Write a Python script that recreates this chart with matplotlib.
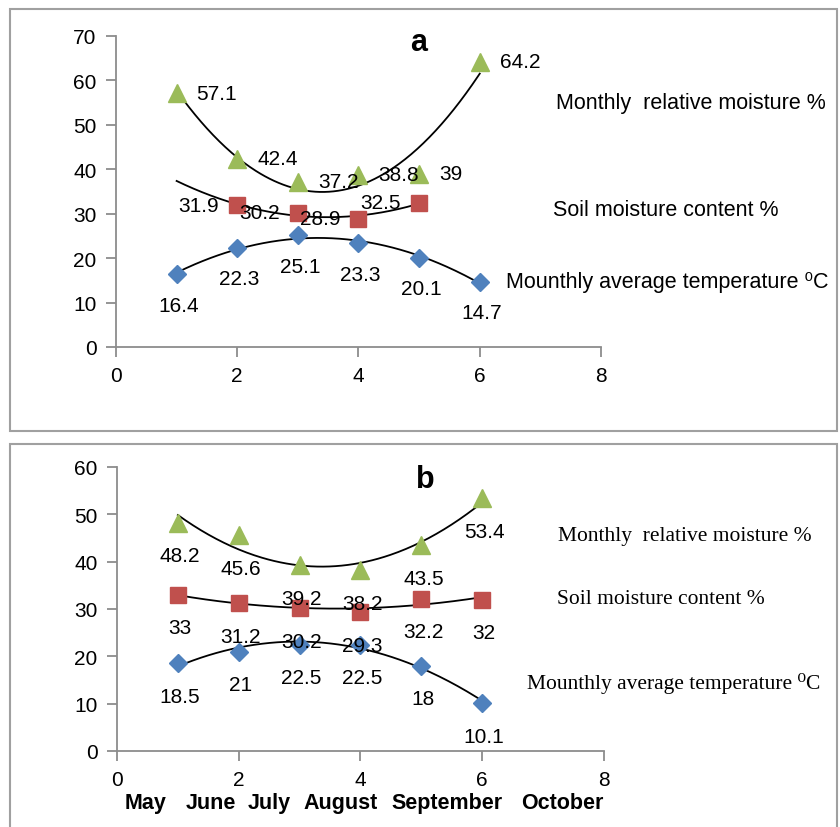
import numpy as np
import matplotlib
matplotlib.use("Agg")
import matplotlib.pyplot as plt
from matplotlib.patches import Rectangle

# ---------------- data ----------------
x_months = [1, 2, 3, 4, 5, 6]
months = ["May", "June", "July", "August", "September", "October"]

# panel a
a_temp = [16.4, 22.3, 25.1, 23.3, 20.1, 14.7]
a_soil_x = [2, 3, 4, 5]
a_soil = [31.9, 30.2, 28.9, 32.5]
a_rh = [57.1, 42.4, 37.2, 38.8, 39, 64.2]

# panel b
b_temp = [18.5, 21, 22.5, 22.5, 18, 10.1]
b_soil = [33, 31.2, 30.2, 29.3, 32.2, 32]
b_rh = [48.2, 45.6, 39.2, 38.2, 43.5, 53.4]

series_names = ["Monthly  relative moisture %", "Soil moisture content %",
                "Mounthly average temperature \u2070C"]

# ---------------- style ----------------
BLUE = "#4F81BD"
RED = "#C0504D"
GREEN = "#9BBB59"
SPINE = "#8C8C8C"
SANS = ["Liberation Sans", "DejaVu Sans"]
SERIF = ["Liberation Serif", "DejaVu Serif"]

W, H = 840, 828
fig = plt.figure(figsize=(W / 100, H / 100), dpi=100)


def fx(px):
    return px / W


def fy(py):
    return 1 - py / H


def make_axes(x0, x1, y0, y1):
    ax = fig.add_axes([fx(x0), fy(y1), fx(x1) - fx(x0), fy(y0) - fy(y1)])
    for s in ["top", "right"]:
        ax.spines[s].set_visible(False)
    for s in ["left", "bottom"]:
        ax.spines[s].set_color(SPINE)
        ax.spines[s].set_linewidth(1.3)
    ax.tick_params(direction="out", length=7, width=1.3, color=SPINE,
                   labelsize=15, pad=7)
    ax.patch.set_alpha(0)
    return ax


def trend(ax, xs, ys, xr):
    c = np.polyfit(xs, ys, 2)
    xx = np.linspace(xr[0], xr[1], 200)
    ax.plot(xx, np.polyval(c, xx), color="black", lw=1.3, zorder=2)


def labels(ax, xs, ys, dx, dy, ha="center", va="center"):
    for xv, yv in zip(xs, ys):
        ax.annotate(f"{yv:g}", (xv, yv), xytext=(dx, dy),
                    textcoords="offset pixels", ha=ha, va=va,
                    fontsize=15, family=SANS, zorder=5,
                    annotation_clip=False)


def markers(ax, xs, ys, kind):
    style = {"rh": dict(marker="^", ms=12.5, color=GREEN),
             "soil": dict(marker="s", ms=12, color=RED),
             "temp": dict(marker="D", ms=9.5, color=BLUE)}[kind]
    ax.plot(xs, ys, ls="none", zorder=3, clip_on=False, **style)


# ---------------- borders ----------------
fig.patches.append(Rectangle((fx(10), fy(432)), fx(837) - fx(10), fy(10) - fy(432),
                             transform=fig.transFigure, fill=False,
                             edgecolor="#A0A0A0", lw=1.5))
fig.patches.append(Rectangle((fx(10), fy(840)), fx(837) - fx(10), fy(445) - fy(840),
                             transform=fig.transFigure, fill=False,
                             edgecolor="#A0A0A0", lw=1.5, clip_on=False))

# ---------------- panel a ----------------
axa = make_axes(116, 601, 37, 348)
axa.set_xlim(0, 8)
axa.set_ylim(0, 70)
axa.set_xticks([0, 2, 4, 6, 8])
axa.set_yticks(range(0, 71, 10))
for lab in axa.get_xticklabels() + axa.get_yticklabels():
    lab.set_family(SANS)

trend(axa, x_months, a_rh, (1, 6))
trend(axa, a_soil_x, a_soil, (1, 5))
trend(axa, x_months, a_temp, (1, 6))
markers(axa, x_months, a_rh, "rh")
markers(axa, a_soil_x, a_soil, "soil")
markers(axa, x_months, a_temp, "temp")

labels(axa, x_months, a_rh, 20, 0, ha="left")
labels(axa, a_soil_x, a_soil, -18, 0, ha="right")
labels(axa, x_months, a_temp, 2, -31)

axa.text((419 - 116) / (601 - 116), (348 - 43) / (348 - 37), "a",
         transform=axa.transAxes, ha="center", va="center",
         fontsize=22, fontweight="bold", family=SANS)

fig.text(fx(556), fy(104), series_names[0], ha="left", va="center",
         fontsize=15.5, family=SANS)
fig.text(fx(553), fy(211), series_names[1], ha="left", va="center",
         fontsize=15.5, family=SANS)
fig.text(fx(506), fy(283), series_names[2], ha="left", va="center",
         fontsize=15.5, family=SANS)

# ---------------- panel b ----------------
axb = make_axes(117, 604, 468, 752)
axb.set_xlim(0, 8)
axb.set_ylim(0, 60)
axb.set_xticks([0, 2, 4, 6, 8])
axb.set_yticks(range(0, 61, 10))
for lab in axb.get_xticklabels() + axb.get_yticklabels():
    lab.set_family(SANS)

trend(axb, x_months, b_rh, (1, 6))
trend(axb, x_months, b_soil, (1, 6))
trend(axb, x_months, b_temp, (1, 6))
markers(axb, x_months, b_rh, "rh")
markers(axb, x_months, b_soil, "soil")
markers(axb, x_months, b_temp, "temp")

labels(axb, x_months, b_rh, 2, -33)
labels(axb, x_months, b_soil, 2, -33)
labels(axb, x_months, b_temp, 2, -33)

axb.text((425 - 117) / (604 - 117), (752 - 480) / (752 - 468), "b",
         transform=axb.transAxes, ha="center", va="center",
         fontsize=22, fontweight="bold", family=SANS)

fig.text(fx(558), fy(536), series_names[0], ha="left", va="center",
         fontsize=15.5, family=SERIF)
fig.text(fx(557), fy(600), series_names[1], ha="left", va="center",
         fontsize=15.5, family=SERIF)
fig.text(fx(527), fy(684), series_names[2], ha="left", va="center",
         fontsize=15.5, family=SERIF)

# month names under panel b
month_px = [146, 211, 269.5, 341, 446.5, 562.5]
for m, px in zip(months, month_px):
    fig.text(fx(px), fy(804), m, ha="center", va="center", fontsize=15.5,
             fontweight="bold", family=SANS)

fig.savefig("out.png", dpi=100)
